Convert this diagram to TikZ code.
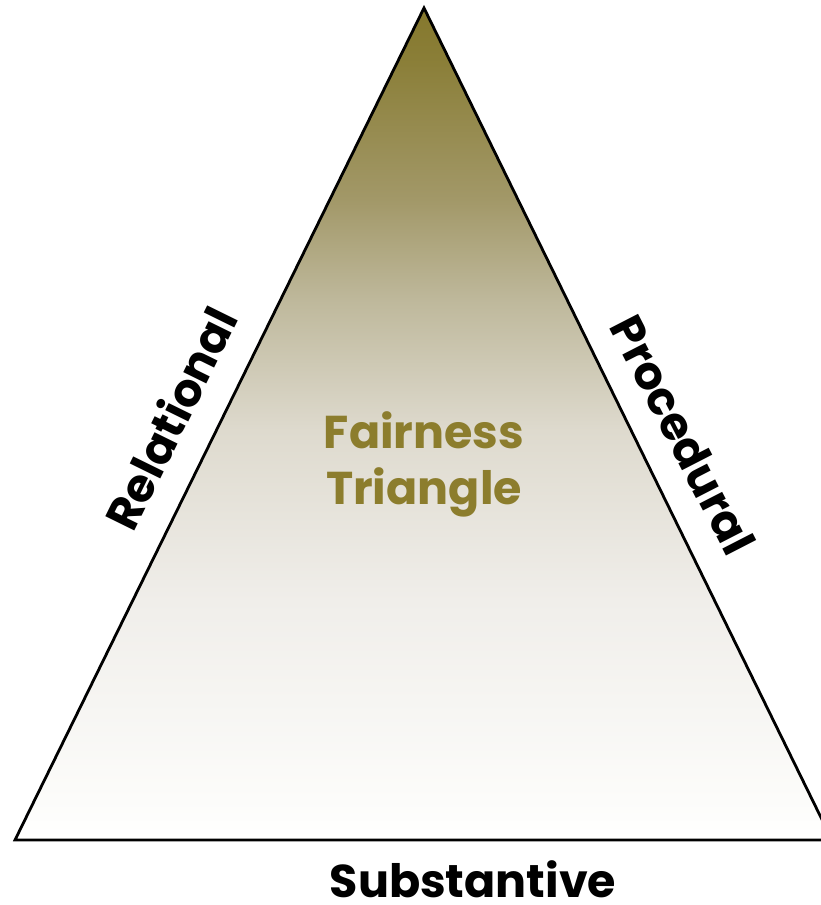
\documentclass[tikz,border=0pt]{standalone}
\usepackage{fontspec}
\setmainfont{Poppins}
\definecolor{olivetxt}{RGB}{140,125,45}
\pgfdeclareverticalshading{fairshade}{100bp}{%
  color(0bp)=(white);
  color(25bp)=(white);
  color(27.4bp)=(rgb,255:red,252;green,252;blue,250);
  color(39.4bp)=(rgb,255:red,240;green,238;blue,234);
  color(49.6bp)=(rgb,255:red,222;green,218;blue,206);
  color(57.5bp)=(rgb,255:red,190;green,184;blue,155);
  color(63.5bp)=(rgb,255:red,162;green,152;blue,104);
  color(72bp)=(rgb,255:red,138;green,126;blue,55);
  color(75bp)=(rgb,255:red,133;green,120;blue,45);
  color(100bp)=(rgb,255:red,133;green,120;blue,45)}
\tikzset{
  edge/.style={line width=2.8pt, line join=miter},
  side/.style={font=\fontsize{46}{50}\selectfont\bfseries, text=black, inner sep=0pt},
  title/.style={font=\fontsize{46}{56}\selectfont\bfseries, text=olivetxt, align=center, inner sep=0pt}
}
\begin{document}
\begin{tikzpicture}[x=1pt,y=-1pt]
\useasboundingbox (0,0) rectangle (820,905);
\coordinate (apex) at (424,8);
\coordinate (bl) at (15,840);
\coordinate (br) at (832,840);
\shade[shading=fairshade] (apex) -- (bl) -- (br) -- cycle;
\draw[edge] (apex) -- (bl) -- (br) -- cycle;
\node[title] (t) at (424,464) {Fairness\\Triangle};
\node[side, rotate=63.8] (rel) at (170,418) {Relational};
\node[side, rotate=-62.8] (pro) at (683,435) {Procedural};
\node[side] (sub) at (473,879) {Substantive};
\end{tikzpicture}
\end{document}
